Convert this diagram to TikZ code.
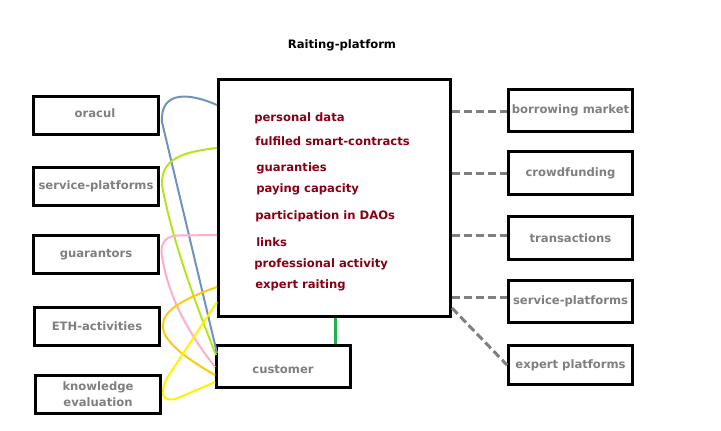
\documentclass[tikz,border=0pt]{standalone}
\usepackage{fontspec}
\setmainfont{DejaVu Sans}
\usetikzlibrary{calc}
\definecolor{boxgray}{HTML}{7F7F7F}
\definecolor{itemred}{HTML}{880015}
\definecolor{cblue}{HTML}{7092BE}
\definecolor{clime}{HTML}{B5E61D}
\definecolor{cpink}{HTML}{FFAEC9}
\definecolor{corange}{HTML}{FFC90E}
\definecolor{cyellow}{HTML}{FFF200}
\definecolor{cgreen}{HTML}{22B14C}
\newcommand{\dfont}{\bfseries\fontsize{8.7}{12}\selectfont}
\begin{document}
\begin{tikzpicture}[x=0.75pt,y=-0.75pt,
  box/.style={draw=black, line width=2.25pt, fill=white, inner sep=0pt,
    font=\dfont, text=boxgray, align=center},
  item/.style={anchor=west, inner sep=0pt, font=\dfont, text=itemred},
  lbl/.style={text=boxgray, font=\dfont, inner sep=0pt},
  curve/.style={line width=1.5pt},
  dash line/.style={draw=boxgray, line width=2.25pt, dash pattern=on 6pt off 3pt}]
\useasboundingbox (0,0) rectangle (721,430);
\node[font=\dfont, inner sep=0pt] (title) at (342,45) {Raiting-platform};
% main box
\node[box, minimum width=232*0.75pt, minimum height=237*0.75pt] (main) at (334.5,198) {};
\node[item] (i1) at (254,118) {personal data};
\node[item] (i2) at (255,141) {fulfiled smart-contracts};
\node[item] (i3) at (256,168) {guaranties};
\node[item] (i4) at (256,189) {paying capacity};
\node[item] (i5) at (255,216) {participation in DAOs};
\node[item] (i6) at (256,242) {links};
\node[item] (i7) at (254,264) {professional activity};
\node[item] (i8) at (255,285) {expert raiting};
% customer
\node[box, minimum width=134*0.75pt, minimum height=42*0.75pt] (cust) at (283.5,366.5) {};
\node[lbl] (custlbl) at (283,369) {customer};
% left boxes
\node[box, minimum width=125*0.75pt, minimum height=38*0.75pt] (oracul) at (96,115.5) {};
\node[lbl] (oracull) at (95,113) {oracul};
\node[box, minimum width=125*0.75pt, minimum height=38*0.75pt] (svcl) at (96,186.5) {service-platforms};
\node[box, minimum width=125*0.75pt, minimum height=38*0.75pt] (guar) at (96,254.5) {guarantors};
\node[box, minimum width=125*0.75pt, minimum height=38*0.75pt] (eth) at (97,326.5) {ETH-activities};
\node[box, minimum width=125*0.75pt, minimum height=38*0.75pt] (know) at (98,394.5) {knowledge\\evaluation};
% right boxes
\node[box, minimum width=124*0.75pt, minimum height=42*0.75pt] (borrow) at (570.5,110.5) {borrowing market};
\node[box, minimum width=124*0.75pt, minimum height=43*0.75pt] (crowd) at (570.5,173) {crowdfunding};
\node[box, minimum width=124*0.75pt, minimum height=43*0.75pt] (trans) at (570.5,238) {transactions};
\node[box, minimum width=124*0.75pt, minimum height=42*0.75pt] (svcr) at (570.5,301.5) {service-platforms};
\node[box, minimum width=124*0.75pt, minimum height=39*0.75pt] (expert) at (570.5,365) {expert platforms};
% dashed connectors
\draw[dash line] (main.east |- 0,111) -- (borrow.west |- 0,111);
\draw[dash line] (main.east |- 0,173) -- (crowd.west);
\draw[dash line] (main.east |- 0,235) -- (trans.west |- 0,235);
\draw[dash line] (main.east |- 0,297) -- (svcr.west |- 0,297);
\draw[dash line] (main.east |- 0,308) -- (expert.west);
% green
\draw[cgreen, line width=2.25pt] (main.south -| 335,0) -- (cust.north -| 335,0);
% curves
\coordinate (b1) at (main.west |- 0,105);
\coordinate (b2) at ($(cust.north west)+(2,9)$);
\draw[cblue, curve] (b1) .. controls (190,93) and (160,90) .. (162,122) -- (b2);
\coordinate (g1) at (main.west |- 0,148);
\coordinate (g2) at ($(cust.north west)+(1,11)$);
\draw[clime, curve] (g1) .. controls (180,152) and (161,160) .. (162,185) .. controls (170,230) and (190,290) .. (g2);
\coordinate (p1) at (main.west |- 0,235);
\coordinate (p2) at (cust.west |- 0,367);
\draw[cpink, curve] (p1) -- (178,235.5) .. controls (160,236) and (160,250) .. (163,262) .. controls (170,300) and (190,335) .. (p2);
\coordinate (o1) at (main.west |- 0,287);
\coordinate (o2) at (cust.west |- 0,375);
\draw[corange, curve] (o1) .. controls (145,312) and (145,335) .. (o2);
\coordinate (y1) at (main.west |- 0,302);
\coordinate (y2) at (cust.west |- 0,382);
\draw[cyellow, curve] (y1) -- (167,378) .. controls (160,392) and (161,404) .. (178,398) -- (y2);
\end{tikzpicture}
\end{document}
